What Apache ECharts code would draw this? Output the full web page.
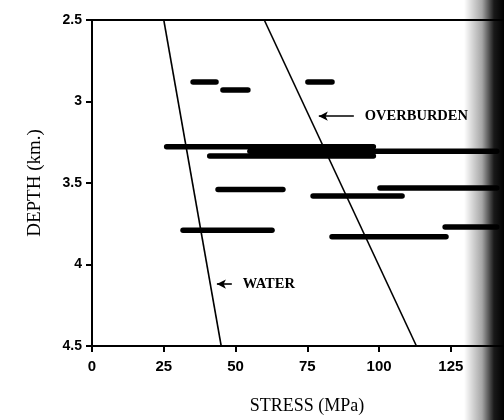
<!DOCTYPE html>
<html>
<head>
<meta charset="utf-8">
<script src="https://cdn.jsdelivr.net/npm/echarts@6/dist/echarts.min.js"></script>
<style>
  html, body { margin: 0; padding: 0; background: #fff; }
  #chart { width: 504px; height: 420px; }
</style>
</head>
<body>
<div id="chart"></div>
<script>
// Stress ranges measured at depth (MPa), one entry per horizontal bar
const rangeDepth = [2.88, 2.93, 2.88, 3.277, 3.305, 3.335, 3.53, 3.54, 3.58, 3.77, 3.79, 3.83];
const rangeFrom  = [35.2, 45.6, 75.2, 26.0, 55.0, 41.0, 100.3, 43.9, 77.0, 123.0, 31.7, 83.6];
const rangeTo    = [43.2, 54.3, 83.6, 98.0, 141.0, 98.0, 141.0, 66.5, 108.0, 141.0, 62.7, 123.3];

// Reference gradients: [stress at top depth, stress at bottom depth]
const gradientDepths = [2.5, 4.5];
const waterStress = [25, 45];
const overburdenStress = [60, 113];

const xTicks = [0, 25, 50, 75, 100, 125];
const yTicks = [2.5, 3, 3.5, 4, 4.5];

const rangeSeries = rangeDepth.map((d, i) => ({
  type: 'line',
  data: [[rangeFrom[i], d], [rangeTo[i], d]],
  symbol: 'none',
  lineStyle: { color: '#000', width: 5.5, cap: 'round' },
  silent: true,
  z: 3
}));

function gradientLine(stress, text, arrowAt) {
  return {
    type: 'line',
    data: gradientDepths.map((d, i) => [stress[i], d]),
    symbol: 'none',
    lineStyle: { color: '#000', width: 1.6 },
    silent: true,
    z: 4,
    markLine: {
      silent: true,
      symbol: ['arrow', 'none'],
      symbolSize: [7, 9],
      lineStyle: { color: '#000', width: 1.6, type: 'solid' },
      label: {
        show: true,
        position: 'end',
        distance: 11,
        formatter: text,
        color: '#000',
        fontFamily: 'Liberation Serif',
        fontWeight: 'bold',
        fontSize: 14.5
      },
      data: [[{ coord: arrowAt[0] }, { coord: arrowAt[1] }]]
    }
  };
}

const chart = echarts.init(document.getElementById('chart'), null, { renderer: 'canvas' });

chart.setOption({
  animation: false,
  backgroundColor: '#fff',
  grid: { left: 92, top: 20, right: 0, bottom: 72, show: false },
  xAxis: [{
    type: 'value',
    min: 0, max: 143.5, interval: 25,
    name: 'STRESS (MPa)',
    nameLocation: 'middle',
    nameGap: 51,
    nameTextStyle: { fontFamily: 'Liberation Serif', fontSize: 18, color: '#000', padding: [0, 0, 0, 18] },
    axisLine: { lineStyle: { color: '#000', width: 2 } },
    axisTick: { show: true, length: 6, lineStyle: { color: '#000', width: 2 } },
    axisLabel: {
      color: '#000', fontFamily: 'Liberation Sans', fontWeight: 'bold', fontSize: 15, margin: 13,
      showMaxLabel: false,
      formatter: v => (xTicks.includes(v) ? String(v) : '')
    },
    splitLine: { show: false }
  }, {
    type: 'value',
    position: 'top',
    min: 0, max: 143.5,
    axisLine: { lineStyle: { color: '#000', width: 2 } },
    axisTick: { show: false },
    axisLabel: { show: false },
    splitLine: { show: false }
  }],
  yAxis: {
    type: 'value',
    inverse: true,
    min: 2.5, max: 4.5, interval: 0.5,
    name: 'DEPTH (km.)',
    nameLocation: 'middle',
    nameGap: 47,
    nameTextStyle: { fontFamily: 'Liberation Serif', fontSize: 19, color: '#000' },
    axisLine: { lineStyle: { color: '#000', width: 2 } },
    axisTick: { show: true, length: 6, lineStyle: { color: '#000', width: 2 } },
    axisLabel: {
      color: '#000', fontFamily: 'Liberation Sans', fontWeight: 'bold', fontSize: 14, margin: 10,
      formatter: v => (yTicks.includes(v) ? String(v) : '')
    },
    splitLine: { show: false }
  },
  series: [
    gradientLine(waterStress, 'WATER', [[43.5, 4.12], [48.7, 4.12]]),
    gradientLine(overburdenStress, 'OVERBURDEN', [[79.0, 3.09], [91.2, 3.09]]),
    ...rangeSeries
  ],
  graphic: [{
    type: 'rect',
    right: 0, top: 0,
    shape: { width: 40, height: 420 },
    style: {
      fill: new echarts.graphic.LinearGradient(0, 0, 1, 0, [
        { offset: 0, color: 'rgba(0,0,0,0)' },
        { offset: 0.45, color: 'rgba(0,0,0,0.35)' },
        { offset: 0.75, color: 'rgba(0,0,0,0.9)' },
        { offset: 1, color: 'rgba(0,0,0,1)' }
      ])
    },
    silent: true,
    z: 100
  }]
});
</script>
</body>
</html>
